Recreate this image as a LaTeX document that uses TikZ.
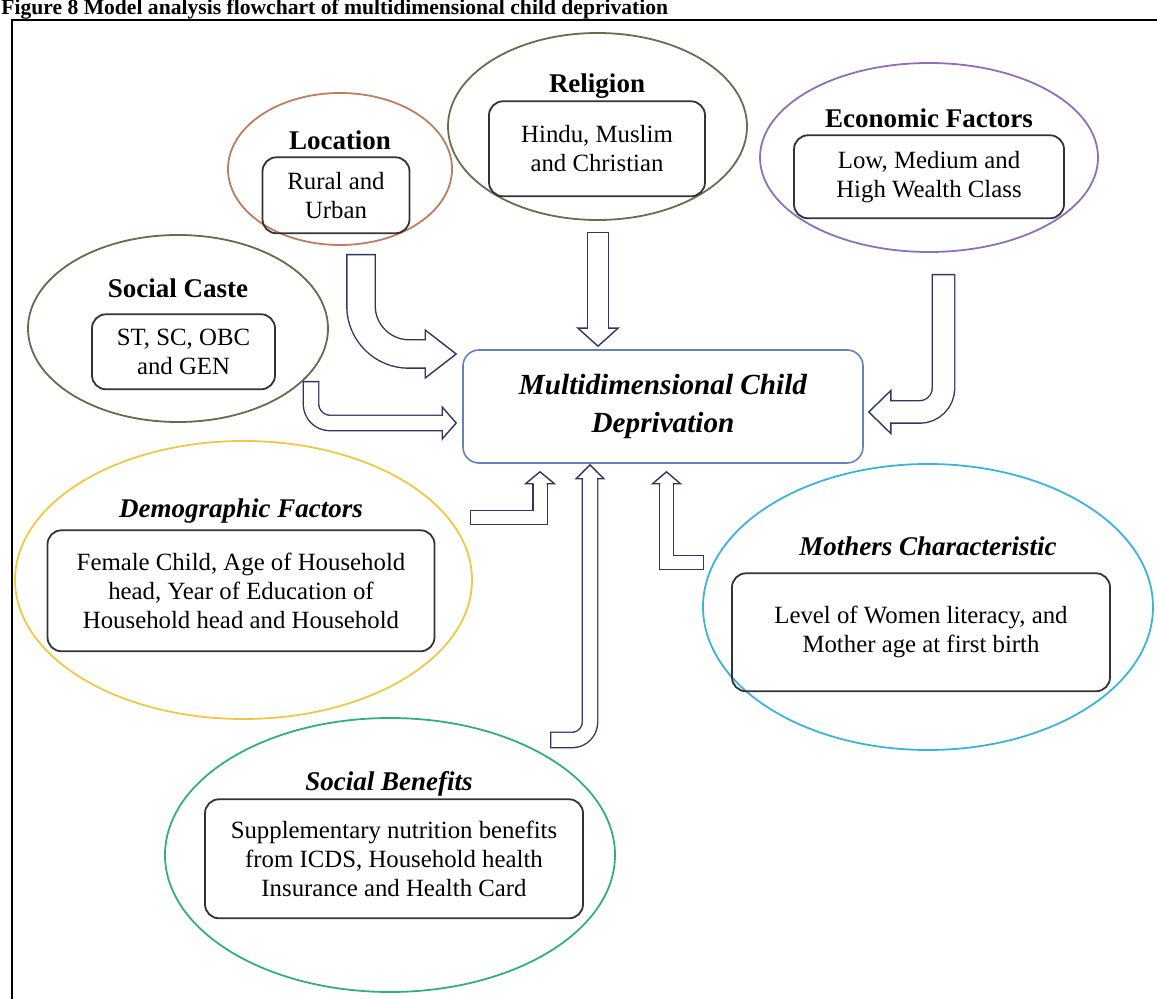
\documentclass[tikz,border=0pt]{standalone}
\usepackage{fontspec}
\setmainfont{Liberation Serif}
\usepackage{xcolor}
\usetikzlibrary{shapes.geometric, positioning, calc}

\definecolor{locbrown}{RGB}{190,125,95}
\definecolor{relolive}{RGB}{100,110,80}
\definecolor{ecopurple}{RGB}{145,110,185}
\definecolor{casteolive}{RGB}{95,110,75}
\definecolor{demogold}{RGB}{240,200,70}
\definecolor{mothcyan}{RGB}{60,180,215}
\definecolor{bengreen}{RGB}{50,175,125}
\definecolor{mainblue}{RGB}{100,130,185}
\definecolor{arrowedge}{RGB}{45,55,95}

% hollow block arrow: shaft width, head half width, head length, angle, path, tip
\newcommand{\hollowarrow}[6]{%
  \draw[draw=arrowedge, line width=#1pt+1.4pt, line join=miter, shorten >=#3pt] #5;
  \draw[draw=white, line width=#1pt, line join=miter, shorten <=0.7pt, shorten >=#3pt-0.6pt] #5;
  \filldraw[draw=arrowedge, fill=white, line width=0.7pt, line join=miter, shift={#6}, rotate=#4]
    (-#3pt,#1pt/2) -- (-#3pt,#2pt) -- (0,0) -- (-#3pt,-#2pt) -- (-#3pt,-#1pt/2);
}

\begin{document}
\begin{tikzpicture}[x=0.5pt, y=0.5pt,
    factor/.style={ellipse, draw=#1, line width=0.9pt, inner sep=0pt},
    factortitle/.style={anchor=base, inner sep=0pt, text depth=0pt, font=\fontsize{13.5}{16}\selectfont\bfseries},
    italictitle/.style={factortitle, font=\fontsize{13.5}{16}\selectfont\bfseries\itshape},
    itembox/.style={rectangle, rounded corners=7pt, draw=black!80, line width=0.9pt, align=center, inner sep=2pt, font=\fontsize{12.4}{14.5}\selectfont},
    mainbox/.style={rectangle, rounded corners=8pt, draw=mainblue, line width=0.8pt, align=center, minimum width=200pt, minimum height=56.5pt, font=\fontsize{14.6}{19}\selectfont\bfseries\itshape}
]
\useasboundingbox (0,0) rectangle (1157,-999);

% frame and caption
\draw[line width=1pt] (12,-999) -- (12,-20) -- (1157,-20);
\node[anchor=base west, inner sep=0pt, font=\fontsize{10.8}{13}\selectfont\bfseries] (caption) at (1,-15) {Figure 8 Model analysis flowchart of multidimensional child deprivation};

% factor ellipses
\node[factor=locbrown, minimum width=112pt, minimum height=76pt] (location) at (340,-169) {};
\node[factor=relolive, minimum width=149.5pt, minimum height=93.5pt] (religion) at (597.5,-126.5) {};
\node[factor=ecopurple, minimum width=169pt, minimum height=94.5pt] (economic) at (929,-157.5) {};
\node[factor=casteolive, minimum width=150pt, minimum height=93.5pt] (caste) at (178,-328.5) {};
\node[factor=demogold, minimum width=228.5pt, minimum height=139pt] (demographic) at (243.5,-580) {};
\node[factor=mothcyan, minimum width=225pt, minimum height=143pt] (mothers) at (928,-607) {};
\node[factor=bengreen, minimum width=225pt, minimum height=137pt] (benefits) at (390,-855) {};

% titles and item boxes
\node[factortitle] (loctitle) at (340,-150) {Location};
\node[itembox, below=3pt of loctitle, xshift=-2pt, minimum width=73.5pt, minimum height=38pt] (locbox) {Rural and\\Urban};

\node[factortitle] (reltitle) at (597,-93) {Religion};
\node[itembox, below=3.5pt of reltitle, minimum width=108pt, minimum height=47.5pt] (relbox) {Hindu, Muslim\\and Christian};

\node[factortitle] (ecotitle) at (929,-128) {Economic Factors};
\node[itembox, below=3pt of ecotitle, minimum width=135pt, minimum height=41.5pt] (ecobox) {Low, Medium and\\High Wealth Class};

\node[factortitle] (castetitle) at (178,-298) {Social Caste};
\node[itembox, below=7.5pt of castetitle, xshift=2.75pt, minimum width=91.5pt, minimum height=37.5pt] (castebox) {ST, SC, OBC\\and GEN};

\node[italictitle] (demotitle) at (241,-518) {Demographic Factors};
\node[itembox, below=5.5pt of demotitle, minimum width=193.5pt, minimum height=60.5pt] (demobox) {Female Child, Age of Household\\head, Year of Education of\\Household head and Household};

\node[italictitle] (mothtitle) at (928,-556) {Mothers Characteristic};
\node[itembox, below=8pt of mothtitle, xshift=-3.5pt, minimum width=189pt, minimum height=59pt] (mothbox) {Level of Women literacy, and\\Mother age at first birth};

\node[italictitle] (bentitle) at (389,-791) {Social Benefits};
\node[itembox, below=3.5pt of bentitle, xshift=2.5pt, minimum width=189pt, minimum height=59.5pt] (benbox) {Supplementary nutrition benefits\\from ICDS, Household health\\Insurance and Health Card};

% outcome
\node[mainbox] (centre) at (663,-406.5) {Multidimensional Child\\Deprivation};

% arrows into the outcome
\coordinate (loctail) at (361,-254);
\coordinate (locturn) at (361,-354);
\coordinate (reltail) at (598,-232);
\coordinate (ecotail) at (943.5,-274);
\coordinate (ecoturn) at (943.5,-412);
\coordinate (castetail) at (311,-381);
\coordinate (casteturn) at (311,-423);
\coordinate (demotail) at (470,-517.5);
\coordinate (demoturn) at (540,-517.5);
\coordinate (bentail) at (550,-740);
\coordinate (benturn) at (590,-740);
\coordinate (mothtail) at (704,-562.5);
\coordinate (mothturn) at (666.5,-562.5);

\hollowarrow{13.5}{12}{15.5}{0}{[rounded corners=24pt] (loctail) -- (locturn) -- ($(centre.west |- locturn)+(-6,0)$)}{($(centre.west |- locturn)+(-6,0)$)}
\hollowarrow{10}{10}{9}{-90}{(reltail) -- ($(reltail |- centre.north)+(0,3)$)}{($(reltail |- centre.north)+(0,3)$)}
\hollowarrow{10.5}{10.75}{11}{180}{[rounded corners=12pt] (ecotail) -- (ecoturn) -- ($(centre.east |- ecoturn)+(5,0)$)}{($(centre.east |- ecoturn)+(5,0)$)}
\hollowarrow{7}{8}{7}{0}{[rounded corners=9.5pt] (castetail) -- (casteturn) -- ($(centre.west |- casteturn)+(-6,0)$)}{($(centre.west |- casteturn)+(-6,0)$)}
\hollowarrow{6.5}{7.25}{6}{90}{(demotail) -- (demoturn) -- ($(demoturn |- centre.south)+(0,-8)$)}{($(demoturn |- centre.south)+(0,-8)$)}
\hollowarrow{7}{7}{7}{90}{[rounded corners=9pt] (bentail) -- (benturn) -- ($(benturn |- centre.south)+(0,-1)$)}{($(benturn |- centre.south)+(0,-1)$)}
\hollowarrow{6.25}{7}{6}{90}{(mothtail) -- (mothturn) -- ($(mothturn |- centre.south)+(0,-8)$)}{($(mothturn |- centre.south)+(0,-8)$)}
\end{tikzpicture}
\end{document}
